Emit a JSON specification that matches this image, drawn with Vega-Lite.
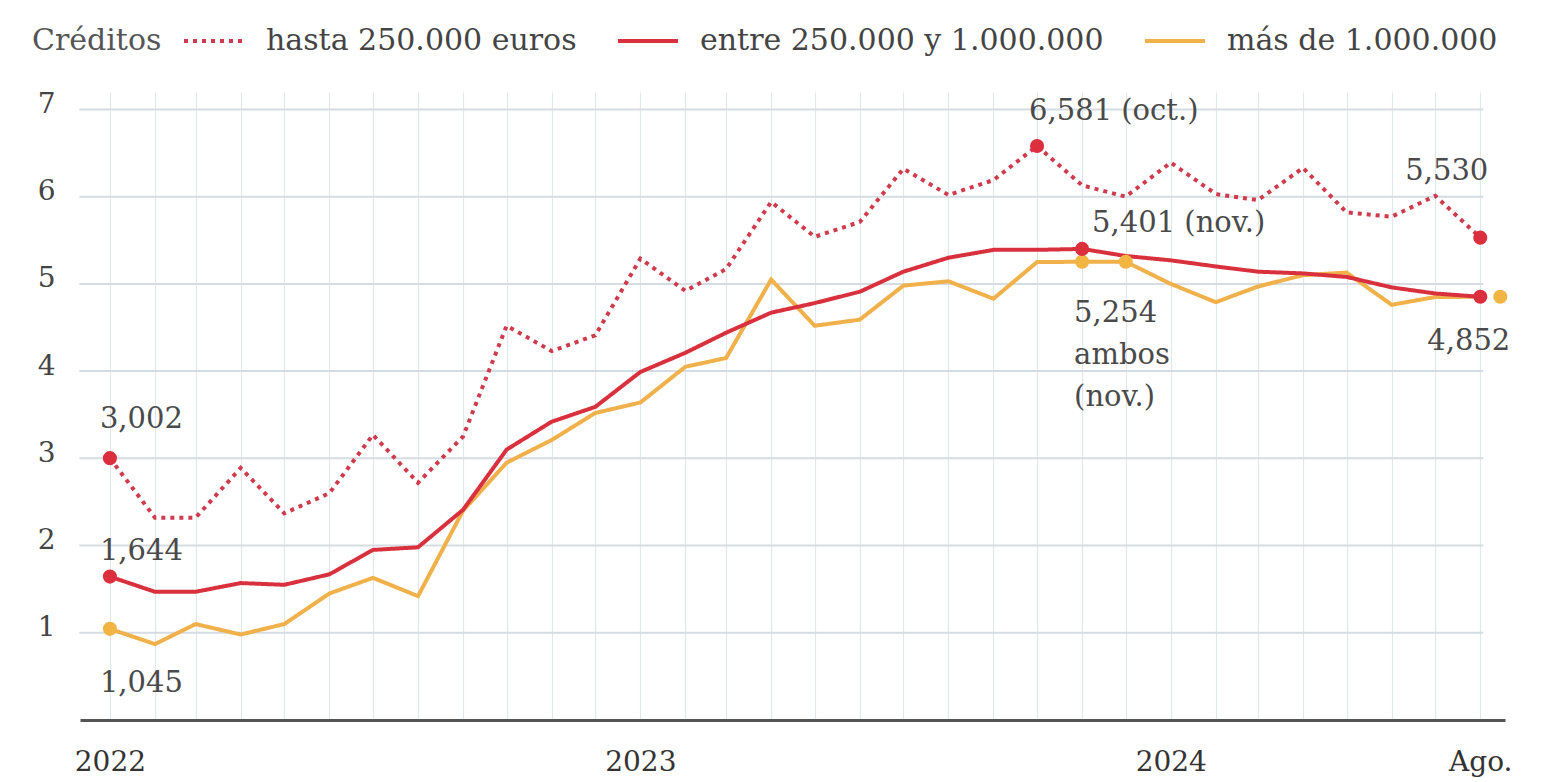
{
  "$schema": "https://vega.github.io/schema/vega-lite/v6.json",
  "autosize": {"type": "none"},
  "width": 1425,
  "height": 628,
  "padding": {"left": 80, "top": 92, "right": 39, "bottom": 62},
  "background": "white",
  "config": {
    "font": "DejaVu Serif",
    "view": {"stroke": null}
  },
  "datasets": {
    "rejilla": [{"v": 1}, {"v": 2}, {"v": 3}, {"v": 4}, {"v": 5}, {"v": 6}, {"v": 7}],
    "datos": [
      {"fecha": "2022-01-01", "serie": "hasta 250.000 euros", "valor": 3.002, "destacado": true},
      {"fecha": "2022-02-01", "serie": "hasta 250.000 euros", "valor": 2.32, "destacado": false},
      {"fecha": "2022-03-01", "serie": "hasta 250.000 euros", "valor": 2.32, "destacado": false},
      {"fecha": "2022-04-01", "serie": "hasta 250.000 euros", "valor": 2.89, "destacado": false},
      {"fecha": "2022-05-01", "serie": "hasta 250.000 euros", "valor": 2.37, "destacado": false},
      {"fecha": "2022-06-01", "serie": "hasta 250.000 euros", "valor": 2.60, "destacado": false},
      {"fecha": "2022-07-01", "serie": "hasta 250.000 euros", "valor": 3.27, "destacado": false},
      {"fecha": "2022-08-01", "serie": "hasta 250.000 euros", "valor": 2.72, "destacado": false},
      {"fecha": "2022-09-01", "serie": "hasta 250.000 euros", "valor": 3.25, "destacado": false},
      {"fecha": "2022-10-01", "serie": "hasta 250.000 euros", "valor": 4.52, "destacado": false},
      {"fecha": "2022-11-01", "serie": "hasta 250.000 euros", "valor": 4.23, "destacado": false},
      {"fecha": "2022-12-01", "serie": "hasta 250.000 euros", "valor": 4.41, "destacado": false},
      {"fecha": "2023-01-01", "serie": "hasta 250.000 euros", "valor": 5.29, "destacado": false},
      {"fecha": "2023-02-01", "serie": "hasta 250.000 euros", "valor": 4.92, "destacado": false},
      {"fecha": "2023-03-01", "serie": "hasta 250.000 euros", "valor": 5.17, "destacado": false},
      {"fecha": "2023-04-01", "serie": "hasta 250.000 euros", "valor": 5.94, "destacado": false},
      {"fecha": "2023-05-01", "serie": "hasta 250.000 euros", "valor": 5.54, "destacado": false},
      {"fecha": "2023-06-01", "serie": "hasta 250.000 euros", "valor": 5.71, "destacado": false},
      {"fecha": "2023-07-01", "serie": "hasta 250.000 euros", "valor": 6.32, "destacado": false},
      {"fecha": "2023-08-01", "serie": "hasta 250.000 euros", "valor": 6.02, "destacado": false},
      {"fecha": "2023-09-01", "serie": "hasta 250.000 euros", "valor": 6.19, "destacado": false},
      {"fecha": "2023-10-01", "serie": "hasta 250.000 euros", "valor": 6.581, "destacado": true},
      {"fecha": "2023-11-01", "serie": "hasta 250.000 euros", "valor": 6.13, "destacado": false},
      {"fecha": "2023-12-01", "serie": "hasta 250.000 euros", "valor": 6.00, "destacado": false},
      {"fecha": "2024-01-01", "serie": "hasta 250.000 euros", "valor": 6.39, "destacado": false},
      {"fecha": "2024-02-01", "serie": "hasta 250.000 euros", "valor": 6.03, "destacado": false},
      {"fecha": "2024-03-01", "serie": "hasta 250.000 euros", "valor": 5.96, "destacado": false},
      {"fecha": "2024-04-01", "serie": "hasta 250.000 euros", "valor": 6.33, "destacado": false},
      {"fecha": "2024-05-01", "serie": "hasta 250.000 euros", "valor": 5.82, "destacado": false},
      {"fecha": "2024-06-01", "serie": "hasta 250.000 euros", "valor": 5.77, "destacado": false},
      {"fecha": "2024-07-01", "serie": "hasta 250.000 euros", "valor": 6.01, "destacado": false},
      {"fecha": "2024-08-01", "serie": "hasta 250.000 euros", "valor": 5.530, "destacado": true},
      {"fecha": "2022-01-01", "serie": "más de 1.000.000", "valor": 1.045, "destacado": true},
      {"fecha": "2022-02-01", "serie": "más de 1.000.000", "valor": 0.87, "destacado": false},
      {"fecha": "2022-03-01", "serie": "más de 1.000.000", "valor": 1.10, "destacado": false},
      {"fecha": "2022-04-01", "serie": "más de 1.000.000", "valor": 0.98, "destacado": false},
      {"fecha": "2022-05-01", "serie": "más de 1.000.000", "valor": 1.10, "destacado": false},
      {"fecha": "2022-06-01", "serie": "más de 1.000.000", "valor": 1.45, "destacado": false},
      {"fecha": "2022-07-01", "serie": "más de 1.000.000", "valor": 1.63, "destacado": false},
      {"fecha": "2022-08-01", "serie": "más de 1.000.000", "valor": 1.42, "destacado": false},
      {"fecha": "2022-09-01", "serie": "más de 1.000.000", "valor": 2.40, "destacado": false},
      {"fecha": "2022-10-01", "serie": "más de 1.000.000", "valor": 2.95, "destacado": false},
      {"fecha": "2022-11-01", "serie": "más de 1.000.000", "valor": 3.21, "destacado": false},
      {"fecha": "2022-12-01", "serie": "más de 1.000.000", "valor": 3.52, "destacado": false},
      {"fecha": "2023-01-01", "serie": "más de 1.000.000", "valor": 3.64, "destacado": false},
      {"fecha": "2023-02-01", "serie": "más de 1.000.000", "valor": 4.05, "destacado": false},
      {"fecha": "2023-03-01", "serie": "más de 1.000.000", "valor": 4.15, "destacado": false},
      {"fecha": "2023-04-01", "serie": "más de 1.000.000", "valor": 5.05, "destacado": false},
      {"fecha": "2023-05-01", "serie": "más de 1.000.000", "valor": 4.52, "destacado": false},
      {"fecha": "2023-06-01", "serie": "más de 1.000.000", "valor": 4.59, "destacado": false},
      {"fecha": "2023-07-01", "serie": "más de 1.000.000", "valor": 4.98, "destacado": false},
      {"fecha": "2023-08-01", "serie": "más de 1.000.000", "valor": 5.03, "destacado": false},
      {"fecha": "2023-09-01", "serie": "más de 1.000.000", "valor": 4.83, "destacado": false},
      {"fecha": "2023-10-01", "serie": "más de 1.000.000", "valor": 5.25, "destacado": false},
      {"fecha": "2023-11-01", "serie": "más de 1.000.000", "valor": 5.254, "destacado": true},
      {"fecha": "2023-12-01", "serie": "más de 1.000.000", "valor": 5.254, "destacado": true},
      {"fecha": "2024-01-01", "serie": "más de 1.000.000", "valor": 5.00, "destacado": false},
      {"fecha": "2024-02-01", "serie": "más de 1.000.000", "valor": 4.79, "destacado": false},
      {"fecha": "2024-03-01", "serie": "más de 1.000.000", "valor": 4.97, "destacado": false},
      {"fecha": "2024-04-01", "serie": "más de 1.000.000", "valor": 5.10, "destacado": false},
      {"fecha": "2024-05-01", "serie": "más de 1.000.000", "valor": 5.13, "destacado": false},
      {"fecha": "2024-06-01", "serie": "más de 1.000.000", "valor": 4.76, "destacado": false},
      {"fecha": "2024-07-01", "serie": "más de 1.000.000", "valor": 4.85, "destacado": false},
      {"fecha": "2024-08-01", "serie": "más de 1.000.000", "valor": 4.852, "destacado": true},
      {"fecha": "2022-01-01", "serie": "entre 250.000 y 1.000.000", "valor": 1.644, "destacado": true},
      {"fecha": "2022-02-01", "serie": "entre 250.000 y 1.000.000", "valor": 1.47, "destacado": false},
      {"fecha": "2022-03-01", "serie": "entre 250.000 y 1.000.000", "valor": 1.47, "destacado": false},
      {"fecha": "2022-04-01", "serie": "entre 250.000 y 1.000.000", "valor": 1.57, "destacado": false},
      {"fecha": "2022-05-01", "serie": "entre 250.000 y 1.000.000", "valor": 1.55, "destacado": false},
      {"fecha": "2022-06-01", "serie": "entre 250.000 y 1.000.000", "valor": 1.67, "destacado": false},
      {"fecha": "2022-07-01", "serie": "entre 250.000 y 1.000.000", "valor": 1.95, "destacado": false},
      {"fecha": "2022-08-01", "serie": "entre 250.000 y 1.000.000", "valor": 1.98, "destacado": false},
      {"fecha": "2022-09-01", "serie": "entre 250.000 y 1.000.000", "valor": 2.41, "destacado": false},
      {"fecha": "2022-10-01", "serie": "entre 250.000 y 1.000.000", "valor": 3.10, "destacado": false},
      {"fecha": "2022-11-01", "serie": "entre 250.000 y 1.000.000", "valor": 3.42, "destacado": false},
      {"fecha": "2022-12-01", "serie": "entre 250.000 y 1.000.000", "valor": 3.59, "destacado": false},
      {"fecha": "2023-01-01", "serie": "entre 250.000 y 1.000.000", "valor": 3.99, "destacado": false},
      {"fecha": "2023-02-01", "serie": "entre 250.000 y 1.000.000", "valor": 4.21, "destacado": false},
      {"fecha": "2023-03-01", "serie": "entre 250.000 y 1.000.000", "valor": 4.44, "destacado": false},
      {"fecha": "2023-04-01", "serie": "entre 250.000 y 1.000.000", "valor": 4.67, "destacado": false},
      {"fecha": "2023-05-01", "serie": "entre 250.000 y 1.000.000", "valor": 4.78, "destacado": false},
      {"fecha": "2023-06-01", "serie": "entre 250.000 y 1.000.000", "valor": 4.91, "destacado": false},
      {"fecha": "2023-07-01", "serie": "entre 250.000 y 1.000.000", "valor": 5.14, "destacado": false},
      {"fecha": "2023-08-01", "serie": "entre 250.000 y 1.000.000", "valor": 5.30, "destacado": false},
      {"fecha": "2023-09-01", "serie": "entre 250.000 y 1.000.000", "valor": 5.39, "destacado": false},
      {"fecha": "2023-10-01", "serie": "entre 250.000 y 1.000.000", "valor": 5.39, "destacado": false},
      {"fecha": "2023-11-01", "serie": "entre 250.000 y 1.000.000", "valor": 5.401, "destacado": true},
      {"fecha": "2023-12-01", "serie": "entre 250.000 y 1.000.000", "valor": 5.32, "destacado": false},
      {"fecha": "2024-01-01", "serie": "entre 250.000 y 1.000.000", "valor": 5.27, "destacado": false},
      {"fecha": "2024-02-01", "serie": "entre 250.000 y 1.000.000", "valor": 5.20, "destacado": false},
      {"fecha": "2024-03-01", "serie": "entre 250.000 y 1.000.000", "valor": 5.14, "destacado": false},
      {"fecha": "2024-04-01", "serie": "entre 250.000 y 1.000.000", "valor": 5.12, "destacado": false},
      {"fecha": "2024-05-01", "serie": "entre 250.000 y 1.000.000", "valor": 5.08, "destacado": false},
      {"fecha": "2024-06-01", "serie": "entre 250.000 y 1.000.000", "valor": 4.96, "destacado": false},
      {"fecha": "2024-07-01", "serie": "entre 250.000 y 1.000.000", "valor": 4.89, "destacado": false},
      {"fecha": "2024-08-01", "serie": "entre 250.000 y 1.000.000", "valor": 4.852, "destacado": true}
    ],
    "notas": [
      {"fecha": "2022-01-01", "valor": 3.002, "texto": "3,002"},
      {"fecha": "2022-01-01", "valor": 1.644, "texto": "1,644"},
      {"fecha": "2022-01-01", "valor": 1.045, "texto": "1,045"},
      {"fecha": "2023-10-01", "valor": 6.581, "texto": "6,581 (oct.)"},
      {"fecha": "2023-11-01", "valor": 5.401, "texto": "5,401 (nov.)"},
      {"fecha": "2023-11-01", "valor": 5.254, "texto": "5,254\nambos\n(nov.)"},
      {"fecha": "2024-08-01", "valor": 5.530, "texto": "5,530"},
      {"fecha": "2024-08-01", "valor": 4.852, "texto": "4,852"}
    ]
  },
  "layer": [
    {
      "data": {"name": "rejilla"},
      "mark": {"type": "rule", "color": "#d5dde2", "strokeWidth": 2},
      "encoding": {
        "x": {
          "datum": {"year": 2021, "month": 12, "date": 11, "utc": true},
          "type": "temporal",
          "scale": {
            "type": "utc",
            "domain": [
              {"year": 2021, "month": 12, "date": 11, "hours": 10, "utc": true},
              {"year": 2024, "month": 8, "date": 18, "utc": true}
            ]
          },
          "axis": {
            "title": null,
            "grid": true,
            "gridColor": "#e1e7eb",
            "gridWidth": 1.2,
            "ticks": false,
            "domainColor": "#555555",
            "domainWidth": 3,
            "labelFont": "DejaVu Serif",
            "labelFontSize": 28,
            "labelColor": "#333333",
            "labelPadding": 28,
            "labelBaseline": "top",
            "labelOverlap": false,
            "labelFlush": false,
            "tickCount": {"interval": "month", "step": 1},
            "labelExpr": "utcmonth(datum.value) == 0 ? utcFormat(datum.value, '%Y') : ((utcmonth(datum.value) == 7 && utcyear(datum.value) == 2024) ? 'Ago.' : '')"
          }
        },
        "x2": {"datum": {"year": 2024, "month": 8, "date": 3, "utc": true}},
        "y": {
          "field": "v",
          "type": "quantitative",
          "scale": {"domain": [0, 7.2], "nice": false, "zero": true},
          "axis": {
            "title": null,
            "grid": false,
            "domain": false,
            "ticks": false,
            "values": [1, 2, 3, 4, 5, 6, 7],
            "format": "d",
            "labelFont": "DejaVu Serif",
            "labelFontSize": 28,
            "labelColor": "#444444",
            "labelAlign": "right",
            "labelPadding": 25,
            "labelBaseline": "middle",
            "labelOffset": -5
          }
        }
      }
    },
    {
      "data": {"name": "datos"},
      "mark": {"type": "line", "strokeWidth": 4},
      "encoding": {
        "x": {"field": "fecha", "type": "temporal"},
        "y": {"field": "valor", "type": "quantitative"},
        "color": {
          "field": "serie",
          "type": "nominal",
          "title": "Créditos",
          "scale": {
            "domain": ["hasta 250.000 euros", "entre 250.000 y 1.000.000", "más de 1.000.000"],
            "range": ["#cf3a4c", "#d8303d", "#f0b04a"]
          },
          "legend": {
            "orient": "none",
            "legendX": -48,
            "legendY": -83,
            "direction": "horizontal",
            "titleOrient": "left",
            "titleAnchor": "middle",
            "titleBaseline": "line-top",
            "titleLineHeight": 16,
            "titleFont": "DejaVu Serif",
            "titleFontSize": 30,
            "titleFontWeight": "normal",
            "titleColor": "#555555",
            "titlePadding": 20,
            "labelFont": "DejaVu Serif",
            "labelFontSize": 30,
            "labelColor": "#444444",
            "labelOffset": 20,
            "labelLimit": 800,
            "symbolType": "stroke",
            "symbolSize": 3600,
            "symbolStrokeWidth": 4,
            "columnPadding": 33
          }
        },
        "strokeDash": {
          "field": "serie",
          "type": "nominal",
          "title": "Créditos",
          "scale": {
            "domain": ["hasta 250.000 euros", "entre 250.000 y 1.000.000", "más de 1.000.000"],
            "range": [[4, 5], [1, 0], [1, 0]]
          },
          "legend": {
            "orient": "none",
            "legendX": -48,
            "legendY": -83,
            "direction": "horizontal",
            "titleOrient": "left",
            "titleAnchor": "middle",
            "titleBaseline": "line-top",
            "titleLineHeight": 16,
            "titleFont": "DejaVu Serif",
            "titleFontSize": 30,
            "titleFontWeight": "normal",
            "titleColor": "#555555",
            "titlePadding": 20,
            "labelFont": "DejaVu Serif",
            "labelFontSize": 30,
            "labelColor": "#444444",
            "labelOffset": 20,
            "labelLimit": 800,
            "symbolType": "stroke",
            "symbolSize": 3600,
            "symbolStrokeWidth": 4,
            "columnPadding": 33
          }
        }
      }
    },
    {
      "data": {"name": "datos"},
      "transform": [
        {"filter": "datum.destacado && !(datum.serie == 'más de 1.000.000' && utcyear(datum.fecha) == 2024 && utcmonth(datum.fecha) == 7)"}
      ],
      "mark": {"type": "circle", "size": 200, "opacity": 1},
      "encoding": {
        "x": {"field": "fecha", "type": "temporal"},
        "y": {"field": "valor", "type": "quantitative"},
        "fill": {
          "field": "serie",
          "type": "nominal",
          "legend": null,
          "scale": {
            "domain": ["hasta 250.000 euros", "entre 250.000 y 1.000.000", "más de 1.000.000"],
            "range": ["#dc2f3e", "#dc2f3e", "#f2b443"]
          }
        }
      }
    },
    {
      "data": {"name": "datos"},
      "transform": [
        {"filter": "datum.serie == 'más de 1.000.000' && utcyear(datum.fecha) == 2024 && utcmonth(datum.fecha) == 7"}
      ],
      "mark": {"type": "circle", "size": 200, "opacity": 1, "xOffset": 20, "color": "#f2b443"},
      "encoding": {
        "x": {"field": "fecha", "type": "temporal"},
        "y": {"field": "valor", "type": "quantitative"}
      }
    },
    {
      "data": {"name": "notas"},
      "transform": [{"filter": "datum.texto == '3,002'"}],
      "mark": {"type": "text", "align": "left", "baseline": "alphabetic", "dx": -10, "dy": -30, "font": "DejaVu Serif", "fontSize": 29, "color": "#4a4a4a"},
      "encoding": {
        "x": {"field": "fecha", "type": "temporal"},
        "y": {"field": "valor", "type": "quantitative"},
        "text": {"field": "texto"}
      }
    },
    {
      "data": {"name": "notas"},
      "transform": [{"filter": "datum.texto == '1,644'"}],
      "mark": {"type": "text", "align": "left", "baseline": "alphabetic", "dx": -10, "dy": -17, "font": "DejaVu Serif", "fontSize": 29, "color": "#4a4a4a"},
      "encoding": {
        "x": {"field": "fecha", "type": "temporal"},
        "y": {"field": "valor", "type": "quantitative"},
        "text": {"field": "texto"}
      }
    },
    {
      "data": {"name": "notas"},
      "transform": [{"filter": "datum.texto == '1,045'"}],
      "mark": {"type": "text", "align": "left", "baseline": "alphabetic", "dx": -10, "dy": 63, "font": "DejaVu Serif", "fontSize": 29, "color": "#4a4a4a"},
      "encoding": {
        "x": {"field": "fecha", "type": "temporal"},
        "y": {"field": "valor", "type": "quantitative"},
        "text": {"field": "texto"}
      }
    },
    {
      "data": {"name": "notas"},
      "transform": [{"filter": "datum.texto == '6,581 (oct.)'"}],
      "mark": {"type": "text", "align": "left", "baseline": "alphabetic", "dx": -8, "dy": -26, "font": "DejaVu Serif", "fontSize": 29, "color": "#4a4a4a"},
      "encoding": {
        "x": {"field": "fecha", "type": "temporal"},
        "y": {"field": "valor", "type": "quantitative"},
        "text": {"field": "texto"}
      }
    },
    {
      "data": {"name": "notas"},
      "transform": [{"filter": "datum.texto == '5,401 (nov.)'"}],
      "mark": {"type": "text", "align": "left", "baseline": "alphabetic", "dx": 10, "dy": -17, "font": "DejaVu Serif", "fontSize": 29, "color": "#4a4a4a"},
      "encoding": {
        "x": {"field": "fecha", "type": "temporal"},
        "y": {"field": "valor", "type": "quantitative"},
        "text": {"field": "texto"}
      }
    },
    {
      "data": {"name": "notas"},
      "transform": [{"filter": "indexof(datum.texto, 'ambos') >= 0"}],
      "mark": {"type": "text", "align": "left", "baseline": "alphabetic", "dx": -8, "dy": 60, "lineBreak": "\n", "lineHeight": 42, "font": "DejaVu Serif", "fontSize": 29, "color": "#4a4a4a"},
      "encoding": {
        "x": {"field": "fecha", "type": "temporal"},
        "y": {"field": "valor", "type": "quantitative"},
        "text": {"field": "texto"}
      }
    },
    {
      "data": {"name": "notas"},
      "transform": [{"filter": "datum.texto == '5,530'"}],
      "mark": {"type": "text", "align": "right", "baseline": "alphabetic", "dx": 8, "dy": -58, "font": "DejaVu Serif", "fontSize": 29, "color": "#4a4a4a"},
      "encoding": {
        "x": {"field": "fecha", "type": "temporal"},
        "y": {"field": "valor", "type": "quantitative"},
        "text": {"field": "texto"}
      }
    },
    {
      "data": {"name": "notas"},
      "transform": [{"filter": "datum.texto == '4,852'"}],
      "mark": {"type": "text", "align": "right", "baseline": "alphabetic", "dx": 30, "dy": 53, "font": "DejaVu Serif", "fontSize": 29, "color": "#4a4a4a"},
      "encoding": {
        "x": {"field": "fecha", "type": "temporal"},
        "y": {"field": "valor", "type": "quantitative"},
        "text": {"field": "texto"}
      }
    }
  ]
}
